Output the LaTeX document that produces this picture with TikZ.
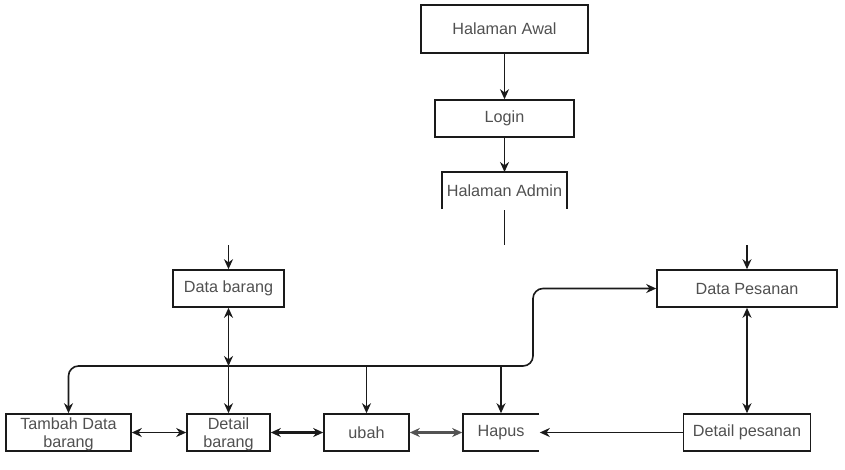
\documentclass[tikz,border=0pt]{standalone}
\usepackage{fontspec}
\setmainfont{Liberation Sans}
\usetikzlibrary{arrows.meta}
\definecolor{txt}{HTML}{505050}
\definecolor{ln}{HTML}{1A1A1A}
\begin{document}
\begin{tikzpicture}[x=1pt,y=-1pt,
  box/.style={draw=ln,line width=1.6pt,minimum height=37pt,inner sep=0pt,text=txt,font=\fontsize{16.2}{17.5}\selectfont,align=center},
  conn/.style={draw=ln,line width=1.6pt,-{Stealth[length=10pt,width=9pt]}},
  dconn/.style={draw=ln,line width=1.6pt,{Stealth[length=10pt,width=9pt]}-{Stealth[length=10pt,width=9pt]}}]
\useasboundingbox (0,0) rectangle (845,469);
% top chain
\node[box,minimum width=167pt,minimum height=48pt] (awal) at (504.5,29) {Halaman Awal};
\node[box,minimum width=139pt] (login) at (504.5,118.5) {Login};
\node[box,draw=none,minimum width=125pt] (admin) at (504.5,191) {Halaman Admin};
\draw[ln,line width=1.6pt] (442,209) -- (442,172) -- (567,172) -- (567,209);
\coordinate (admtop) at (504.5,172);
\coordinate (adm1) at (504.5,210);
\coordinate (adm2) at (504.5,245);
\draw[conn] (awal.south) -- (login.north);
\draw[conn] (login.south) -- (admtop);
\draw[ln,line width=1.6pt] (adm1) -- (adm2);
% middle
\node[box,minimum width=111pt] (db) at (228.5,288.5) {Data barang};
\node[box,minimum width=180pt] (dp) at (747,288.5) {Data Pesanan};
\coordinate (dbin) at (228.5,245);
\coordinate (dpin) at (747,245);
\draw[conn] (dbin) -- (db.north);
\draw[conn] (dpin) -- (dp.north);
% bottom row
\node[box,minimum width=125pt] (tambah) at (68.5,432.5) {};
\node[text=txt,font=\fontsize{16.2}{17.5}\selectfont,align=center] (tambahtxt) at (68.5,434.5) {Tambah Data\\barang};
\node[box,minimum width=83pt] (detb) at (228.5,432.5) {};
\node[text=txt,font=\fontsize{16.2}{17.5}\selectfont,align=center] (detbtxt) at (228.5,434.5) {Detail\\barang};
\node[box,minimum width=85pt] (ubah) at (366.5,432.5) {ubah};
\node[box,draw=none,minimum width=76pt] (hapus) at (501,432.5) {Hapus};
\draw[ln,line width=1.6pt] (539,414) -- (463,414) -- (463,451) -- (539,451);
\node[box,minimum width=127pt] (detp) at (747,432.5) {Detail pesanan};
% bus
\coordinate (J) at (228.5,366);
\coordinate (K) at (533,366);
\draw[dconn] (db.south) -- (J);
\draw[conn] (J) -- (detb.north);
\draw[conn,rounded corners=10pt] (J) -| (tambah.north);
\draw[conn,rounded corners=10pt] (J) -- (K) |- (dp.west);
\draw[conn] (ubah.north |- J) -- (ubah.north);
\draw[conn] (hapus.north |- J) -- (hapus.north);
% horizontal links
\draw[dconn] (tambah.east) -- (detb.west);
\draw[dconn,line width=2.4pt] (detb.east) -- (ubah.west);
\draw[dconn,line width=2.2pt,draw=ln!75] (ubah.east) -- (hapus.west);
\draw[conn] (detp.west) -- (hapus.east);
\draw[dconn] (dp.south) -- (detp.north);
\end{tikzpicture}
\end{document}
